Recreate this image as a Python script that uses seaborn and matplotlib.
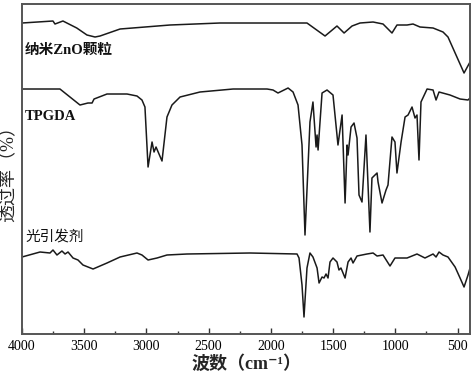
#!/usr/bin/env python3
# FTIR spectra of nano-ZnO, TPGDA and photoinitiator, stacked with offsets.

import numpy as np
import pandas as pd
import seaborn as sns
import matplotlib.pyplot as plt
from matplotlib.ticker import MultipleLocator

# wavenumber (cm-1) / transmittance (offset, arbitrary units)
ZNO_WN = [4000, 3751, 3735, 3671, 3560, 3478, 3413, 3373, 3212, 2811, 2409, 1710,
          1565, 1469, 1412, 1348, 1284, 1179, 1099, 1027, 987, 906, 858, 802, 697,
          617, 577, 448, 400]
ZNO_T = [311, 313, 310, 313, 306, 299, 297, 298, 305, 309, 311, 311,
         298, 308, 301, 308, 311, 312, 310, 301, 309, 309, 310, 307, 306,
         302, 297, 261, 272]

TPGDA_WN = [4000, 3695, 3534, 3470, 3437, 3421, 3317, 3156, 3076, 3036, 3012, 2987,
            2955, 2939, 2923, 2875, 2835, 2795, 2730, 2570, 2304, 2031, 1983, 1943,
            1862, 1822, 1782, 1750, 1726, 1686, 1662, 1637, 1629, 1621, 1589, 1549,
            1501, 1461, 1428, 1404, 1388, 1380, 1356, 1332, 1308, 1292, 1268, 1236,
            1204, 1188, 1147, 1139, 1107, 1075, 1059, 1027, 1003, 987, 954, 922,
            898, 866, 842, 826, 810, 794, 745, 697, 673, 649, 561, 480, 416, 400]
TPGDA_T = [245, 245, 229, 231, 231, 235, 240, 240, 238, 234, 227, 167,
           192, 182, 187, 173, 217, 229, 237, 242, 245, 245, 244, 241,
           246, 242, 229, 189, 99, 212, 232, 187, 199, 184, 241, 244,
           239, 189, 219, 131, 189, 179, 207, 211, 196, 139, 132, 199,
           102, 156, 161, 152, 131, 144, 149, 197, 192, 161, 192, 217,
           219, 227, 216, 219, 174, 232, 245, 244, 234, 242, 239, 235, 234, 236]

PI_WN = [4000, 3855, 3775, 3751, 3719, 3679, 3654, 3630, 3590, 3550, 3510, 3429,
         3317, 3212, 3076, 3036, 2987, 2915, 2835, 2674, 2168, 1790, 1774, 1750,
         1734, 1710, 1686, 1662, 1629, 1613, 1589, 1573, 1557, 1541, 1525, 1501,
         1469, 1453, 1437, 1404, 1380, 1356, 1340, 1308, 1228, 1179, 1147, 1099,
         1043, 1003, 906, 826, 762, 697, 673, 649, 617, 577, 520, 480, 448, 416, 400]
PI_T = [77, 82, 81, 84, 79, 83, 80, 82, 76, 74, 69, 65,
        71, 77, 81, 79, 74, 76, 79, 80, 81, 80, 76, 49,
        17, 66, 81, 77, 66, 51, 57, 56, 60, 56, 72, 76,
        72, 64, 66, 56, 72, 76, 71, 78, 80, 81, 78, 79,
        68, 76, 76, 80, 76, 80, 77, 82, 79, 77, 67, 56, 47, 59, 66]

SPECTRA = [("纳米ZnO颗粒", ZNO_WN, ZNO_T, 284),
           ("TPGDA", TPGDA_WN, TPGDA_T, 218),
           ("光引发剂", PI_WN, PI_T, 97)]

sns.set_theme(style="white")
plt.rcParams["font.family"] = ["Liberation Serif", "Noto Sans CJK SC", "DejaVu Sans"]

fig = plt.figure(figsize=(4.74, 3.78), dpi=100)
ax = fig.add_axes([0.0464, 0.1164, 0.9452, 0.873])

for name, wn, t, ylab in SPECTRA:
    df = pd.DataFrame({"wn": wn, "t": t})
    sns.lineplot(data=df, x="wn", y="t", sort=False, estimator=None,
                 color="#1a1a1a", linewidth=1.1, ax=ax)
    weight = "bold" if name != "光引发剂" else "normal"
    ax.text(3975, ylab, name, fontsize=10.5, fontweight=weight,
            ha="left", va="center", color="#111111")

ax.set_xlim(4000, 400)
ax.set_ylim(0, 330)
ax.xaxis.set_major_locator(MultipleLocator(500))
ax.xaxis.set_minor_locator(MultipleLocator(250))
ax.tick_params(axis="x", which="major", direction="in", length=4, width=1,
               labelsize=10, pad=4, bottom=True, top=False, colors="#333333",
               labelcolor="black")
ax.tick_params(axis="x", which="minor", direction="in", length=2.5, width=1,
               bottom=True, top=False, colors="#333333")
ax.set_yticks([])
for side in ("top", "right", "bottom", "left"):
    ax.spines[side].set_color("#555555")
    ax.spines[side].set_linewidth(1.4)

ax.set_xlabel("波数（cm⁻¹）", fontsize=13, fontweight="bold", labelpad=2)
ax.set_ylabel("透过率（%）", fontsize=13, labelpad=3)

fig.savefig("out.png", dpi=100)
